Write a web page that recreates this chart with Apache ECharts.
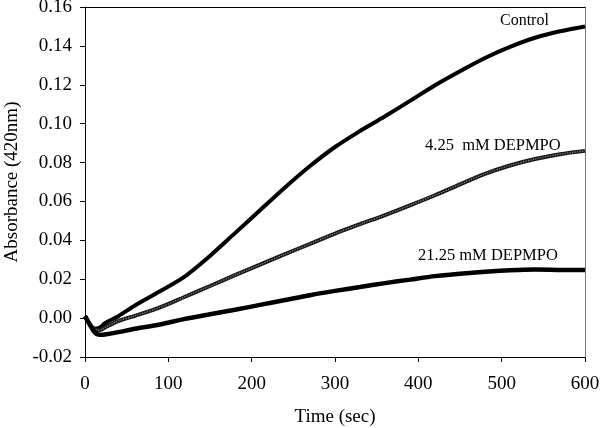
<!DOCTYPE html>
<html>
<head>
<meta charset="utf-8">
<script src="https://cdn.jsdelivr.net/npm/echarts@6/dist/echarts.min.js"></script>
<style>html,body{margin:0;padding:0;background:#fff;}#c{width:600px;height:428px;}</style>
</head>
<body>
<div id="c"></div>
<script>
var times = [0,4,8,12,16,20,24,40,60,90,120,150,180,210,240,270,300,330,360,390,420,450,480,510,540,570,600];
var control = [0.001,-0.002,-0.0045,-0.0055,-0.0052,-0.0042,-0.0026,0.001,0.0065,0.0138,0.0215,0.032,0.0437,0.0555,0.0672,0.0782,0.088,0.0962,0.1038,0.1117,0.1198,0.127,0.1338,0.1395,0.1442,0.1475,0.150];
var dep425 = [0.001,-0.002,-0.0045,-0.0058,-0.0062,-0.0058,-0.0048,-0.0015,0.0012,0.0055,0.011,0.0165,0.0221,0.0275,0.0329,0.0382,0.0435,0.0483,0.053,0.058,0.0632,0.0688,0.0742,0.0785,0.0818,0.0843,0.086];
var dep2125 = [0.001,-0.002,-0.005,-0.0075,-0.0085,-0.0086,-0.0084,-0.0072,-0.0055,-0.0033,-0.0004,0.002,0.0043,0.0068,0.0093,0.0118,0.014,0.016,0.018,0.0198,0.0216,0.0228,0.0238,0.0246,0.025,0.0248,0.0247];
var yTicks = ['-0.02','0.00','0.02','0.04','0.06','0.08','0.10','0.12','0.14','0.16'];
var seriesLabels = ['Control','4.25  mM DEPMPO','21.25 mM DEPMPO'];

function pairs(v){ return times.map(function(t,i){ return [t, v[i]]; }); }

var FONT = '"Liberation Serif", "Times New Roman", serif';
var chart = echarts.init(document.getElementById('c'), null, {renderer:'canvas'});
var option = {
  animation: false,
  backgroundColor: '#fff',
  textStyle: {fontFamily: FONT, color: '#000'},
  grid: {left: 85, right: 15, top: 7, bottom: 71, containLabel: false, outerBoundsMode: 'none'},
  xAxis: [{
    type: 'value', min: 0, max: 600, interval: 100,
    name: 'Time (sec)', nameLocation: 'middle', nameGap: 51,
    nameTextStyle: {fontFamily: FONT, fontSize: 19, color: '#000'},
    axisLine: {onZero: false, lineStyle: {color: '#000', width: 1}},
    axisTick: {show: true, length: 5, lineStyle: {color: '#000'}},
    axisLabel: {fontFamily: FONT, fontSize: 19, color: '#000', margin: 18},
    splitLine: {show: false}
  },{
    type: 'value', min: 0, max: 600, position: 'top',
    axisLine: {show: true, onZero: false, lineStyle: {color: '#000', width: 1}},
    axisTick: {show: false}, axisLabel: {show: false}, splitLine: {show: false}
  }],
  yAxis: [{
    type: 'value', min: -0.02, max: 0.16, interval: 0.02,
    name: 'Absorbance (420nm)', nameLocation: 'middle', nameGap: 63,
    nameTextStyle: {fontFamily: FONT, fontSize: 19, color: '#000'},
    axisLine: {show: true, onZero: false, lineStyle: {color: '#000', width: 1}},
    axisTick: {show: true, length: 5, lineStyle: {color: '#000'}},
    axisLabel: {fontFamily: FONT, fontSize: 19, color: '#000', margin: 13,
      formatter: function(v){ var i = Math.round((v + 0.02) / 0.02); return yTicks[i]; }},
    splitLine: {show: false}
  },{
    type: 'value', min: -0.02, max: 0.16, position: 'right',
    axisLine: {show: true, onZero: false, lineStyle: {color: '#777', width: 1}},
    axisTick: {show: false}, axisLabel: {show: false}, splitLine: {show: false}
  }],
  series: [
    {name: seriesLabels[0], type: 'line', data: pairs(control), showSymbol: false, smooth: 0.3,
     lineStyle: {color: '#000', width: 4}},
    {name: seriesLabels[1], type: 'line', data: pairs(dep425), showSymbol: false, smooth: 0.3,
     lineStyle: {color: '#1a1a1a', width: 4}},
    {name: seriesLabels[1] + ' inner', type: 'line', data: pairs(dep425), showSymbol: false, smooth: 0.3,
     lineStyle: {color: '#9a9a9a', width: 1.2, type: [1, 1.5]}},
    {name: seriesLabels[2], type: 'line', data: pairs(dep2125), showSymbol: false, smooth: 0.3,
     lineStyle: {color: '#000', width: 4.5}}
  ],
  graphic: [
    {type: 'text', left: 500, top: 13, style: {text: seriesLabels[0], font: '16px ' + FONT, fill: '#000'}},
    {type: 'text', left: 425, top: 137, style: {text: seriesLabels[1], font: '16.5px ' + FONT, fill: '#000'}},
    {type: 'text', left: 418, top: 247, style: {text: seriesLabels[2], font: '16.5px ' + FONT, fill: '#000'}}
  ]
};
chart.setOption(option);
</script>
</body>
</html>
